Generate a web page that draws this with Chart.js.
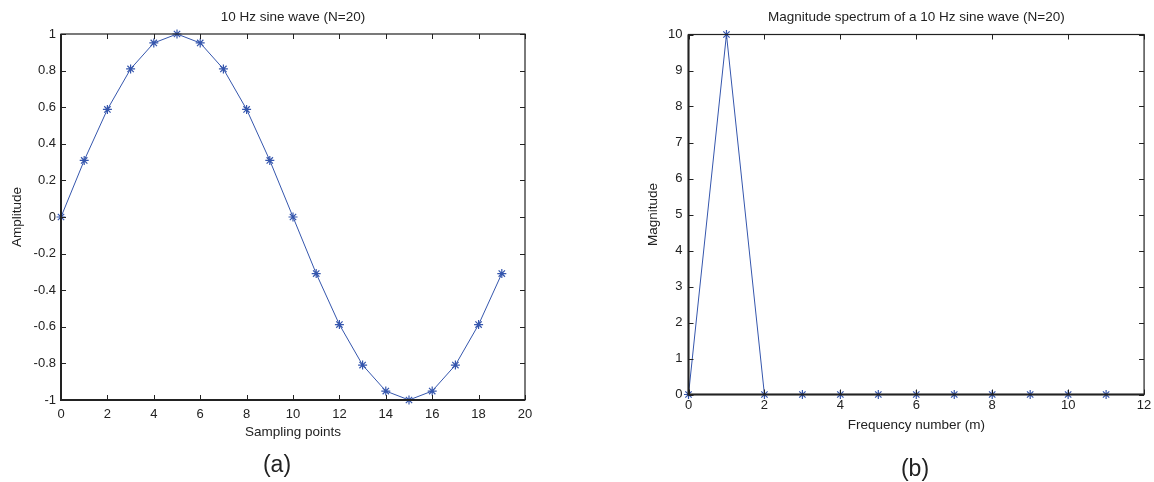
<!DOCTYPE html>
<html>
<head>
<meta charset="utf-8">
<script src="https://cdn.jsdelivr.net/npm/chart.js@4"></script>
<style>
  html, body { margin: 0; padding: 0; background: #fff; }
  body { width: 1154px; height: 482px; position: relative; overflow: hidden; font-family: "Liberation Sans", Arial, sans-serif; }
  .wrap { position: absolute; top: 0; width: 577px; height: 482px; }
  .cap { position: absolute; width: 60px; height: 28px; line-height: 28px; text-align: center; font-size: 23px; color: #222; }
</style>
</head>
<body>
<div class="wrap" style="left:0"><canvas id="c1" width="577" height="482"></canvas></div>
<div class="wrap" style="left:577px"><canvas id="c2" width="577" height="482"></canvas></div>
<div class="cap" style="left:247px; top:450px;">(a)</div>
<div class="cap" style="left:885px; top:454px;">(b)</div>
<script>
// ---- data ----
const sampleIdx = [0,1,2,3,4,5,6,7,8,9,10,11,12,13,14,15,16,17,18,19];
const sineValues = [0, 0.309, 0.588, 0.809, 0.951, 1, 0.951, 0.809, 0.588, 0.309,
                    0, -0.309, -0.588, -0.809, -0.951, -1, -0.951, -0.809, -0.588, -0.309];
const freqIdx = [0,1,2,3,4,5,6,7,8,9,10,11];
const magValues = [0, 10, 0, 0, 0, 0, 0, 0, 0, 0, 0, 0];

const titleA = '10 Hz sine wave (N=20)';
const titleB = 'Magnitude spectrum of a 10 Hz sine wave (N=20)';

const FONT = '"Liberation Sans", Arial, sans-serif';
const LINE = '#3556ad';
const INK = '#222';

// Box + inward tick marks (MATLAB style), drawn from the library's scales
const boxPlugin = {
  id: 'box',
  afterDatasetsDraw(chart) {
    const {ctx, chartArea: a, scales} = chart;
    const xs = scales.x, ys = scales.y;
    const L = 5;
    ctx.save();
    ctx.strokeStyle = INK;
    ctx.lineWidth = 1;
    ctx.beginPath();
    xs.ticks.forEach(t => {
      const px = Math.round(xs.getPixelForValue(t.value)) + 0.5;
      ctx.moveTo(px, a.bottom); ctx.lineTo(px, a.bottom - L);
      ctx.moveTo(px, a.top); ctx.lineTo(px, a.top + L);
    });
    ys.ticks.forEach(t => {
      const py = Math.round(ys.getPixelForValue(t.value)) + 0.5;
      ctx.moveTo(a.left, py); ctx.lineTo(a.left + L, py);
      ctx.moveTo(a.right, py); ctx.lineTo(a.right - L, py);
    });
    ctx.stroke();
    ctx.lineWidth = 1.2;
    ctx.strokeRect(a.left, a.top, a.right - a.left, a.bottom - a.top);
    ctx.lineWidth = 2;
    ctx.beginPath();
    ctx.moveTo(a.left, a.top); ctx.lineTo(a.left, a.bottom); ctx.lineTo(a.right, a.bottom);
    ctx.stroke();
    ctx.restore();
  }
};

function fmt(v) { return String(Math.round(v * 10) / 10); }

function makeChart(id, cfg) {
  const pts = cfg.xs.map((x, i) => ({x: x, y: cfg.ys[i]}));
  return new Chart(document.getElementById(id), {
    type: 'line',
    data: {
      datasets: [{
        data: pts,
        borderColor: LINE,
        borderWidth: 1,
        pointStyle: 'star',
        pointRadius: 4.5,
        pointBorderColor: LINE,
        pointBorderWidth: 1.2,
        pointBackgroundColor: LINE,
        tension: 0,
        clip: false
      }]
    },
    options: {
      responsive: false,
      animation: false,
      events: [],
      layout: { padding: { left: cfg.padLeft, right: cfg.padRight, top: 0, bottom: 0 } },
      plugins: {
        legend: { display: false },
        tooltip: { enabled: false },
        title: {
          display: true,
          text: cfg.title,
          fullSize: false,
          color: INK,
          font: { family: FONT, size: 13.5, weight: 'normal' },
          padding: { top: 9.4, bottom: cfg.titleBottom }
        }
      },
      scales: {
        x: {
          type: 'linear',
          min: cfg.xMin, max: cfg.xMax,
          grid: { display: false, drawTicks: false },
          border: { display: false },
          ticks: { stepSize: cfg.xStep, color: INK, padding: cfg.xTickPad, maxRotation: 0,
                   font: { family: FONT, size: 13 }, callback: fmt },
          title: { display: true, text: cfg.xTitle, color: INK,
                   font: { family: FONT, size: 13.5 },
                   padding: { top: 4, bottom: cfg.xTitlePadBottom } },
          afterFit(s) { s.height = cfg.xHeight; }
        },
        y: {
          type: 'linear',
          min: cfg.yMin, max: cfg.yMax,
          grid: { display: false, drawTicks: false },
          border: { display: false },
          ticks: { stepSize: cfg.yStep, color: INK, padding: cfg.yTickPad,
                   font: { family: FONT, size: 13 }, callback: fmt },
          title: { display: true, text: cfg.yTitle, color: INK,
                   font: { family: FONT, size: 13.5 },
                   padding: { top: 4, bottom: 4 } },
          afterFit(s) { s.width = cfg.yWidth; }
        }
      }
    },
    plugins: [boxPlugin]
  });
}

makeChart('c1', {
  xs: sampleIdx, ys: sineValues, title: titleA,
  xTitle: 'Sampling points', yTitle: 'Amplitude',
  xMin: 0, xMax: 20, xStep: 2, yMin: -1, yMax: 1, yStep: 0.2,
  padLeft: 5.2, padRight: 52, yWidth: 55.8, xHeight: 82,
  titleBottom: 8.4, xTickPad: 7, yTickPad: 5, xTitlePadBottom: 41.9
});

makeChart('c2', {
  xs: freqIdx, ys: magValues, title: titleB,
  xTitle: 'Frequency number (m)', yTitle: 'Magnitude',
  xMin: 0, xMax: 12, xStep: 2, yMin: 0, yMax: 10, yStep: 1,
  padLeft: 64.2, padRight: 6, yWidth: 47.3, xHeight: 87.5,
  titleBottom: 8.9, xTickPad: 2.7, yTickPad: 6, xTitlePadBottom: 48.9
});
</script>
</body>
</html>
